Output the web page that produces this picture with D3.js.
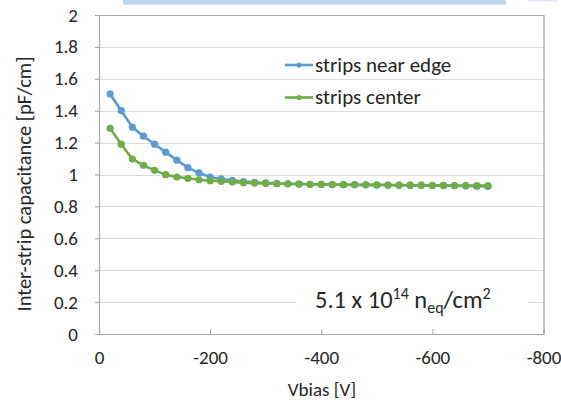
<!DOCTYPE html>
<html>
<head>
<meta charset="utf-8">
<script src="https://cdn.jsdelivr.net/npm/d3@7"></script>
<style>
  body { margin: 0; background: #fff; }
  text { font-family: Carlito, "Liberation Sans", "DejaVu Sans", sans-serif; fill: #262626; }
</style>
</head>
<body>
<svg width="561" height="401"></svg>
<script>
// bias voltage [V]
var vbias = [-20, -40, -60, -80, -100, -120, -140, -160, -180, -200,
             -220, -240, -260, -280, -300, -320, -340, -360, -380, -400,
             -420, -440, -460, -480, -500, -520, -540, -560, -580, -600,
             -620, -640, -660, -680, -700];
var nearEdge = [1.505, 1.40, 1.297, 1.24, 1.19, 1.14, 1.09, 1.043, 1.01, 0.984,
                0.972, 0.963, 0.956, 0.951, 0.947, 0.944, 0.942, 0.940, 0.939, 0.938,
                0.937, 0.936, 0.935, 0.935, 0.934, 0.934, 0.933, 0.933, 0.932, 0.931,
                0.930, 0.929, 0.928, 0.927, 0.925];
var center = [1.29, 1.19, 1.097, 1.058, 1.026, 0.999, 0.984, 0.976, 0.967, 0.961,
              0.957, 0.953, 0.949, 0.946, 0.944, 0.942, 0.941, 0.940, 0.939, 0.938,
              0.937, 0.936, 0.936, 0.935, 0.935, 0.934, 0.934, 0.933, 0.933, 0.932,
              0.932, 0.931, 0.931, 0.930, 0.930];
var seriesNames = ['strips near edge', 'strips center'];
var seriesColors = ['#5b9bd5', '#70ad47'];
var xTicks = [0, -200, -400, -600, -800];
var yTicks = [0, 0.2, 0.4, 0.6, 0.8, 1, 1.2, 1.4, 1.6, 1.8, 2];

var svg = d3.select('svg');
var mLeft = 99, mRight = 543.5, mTop = 15, mBottom = 334;

var x = d3.scaleLinear().domain([0, -800]).range([mLeft, mRight]);
var y = d3.scaleLinear().domain([0, 2]).range([mBottom, mTop]);

// light blue strip at the top of the slide
svg.append('rect').attr('x', 123).attr('y', 0).attr('width', 383).attr('height', 4.7).attr('fill', '#bdd7ee');
svg.append('rect').attr('x', 528).attr('y', 0).attr('width', 30).attr('height', 1.5).attr('fill', '#e3eaf3');

// gridlines
svg.append('g').selectAll('line').data(yTicks.slice(1)).enter().append('line')
   .attr('x1', mLeft).attr('x2', mRight)
   .attr('y1', function (d) { return Math.round(y(d)) + 0.5; })
   .attr('y2', function (d) { return Math.round(y(d)) + 0.5; })
   .attr('stroke', '#d9d9d9').attr('stroke-width', 1.2);

// border top/right
svg.append('path')
   .attr('d', 'M' + mLeft + ',' + (mTop + 0.5) + 'H' + (mRight + 0.5) + 'V' + mBottom)
   .attr('fill', 'none').attr('stroke', '#a6a6a6').attr('stroke-width', 1.2);

// y axis
var yAxis = svg.append('g').attr('transform', 'translate(' + mLeft + ',0)')
   .call(d3.axisLeft(y).tickValues(yTicks).tickSize(4).tickPadding(17)
         .tickFormat(function (d) { return String(+d.toFixed(1)); }));
yAxis.select('.domain').attr('stroke', '#a6a6a6').attr('stroke-width', 1.2);
yAxis.selectAll('.tick line').attr('stroke', '#a6a6a6');
yAxis.selectAll('text').attr('font-family', null).style('font-size', '19px').attr('fill', '#262626');

// x axis with ticks pointing inward
var xAxis = svg.append('g').attr('transform', 'translate(0,' + mBottom + ')')
   .call(d3.axisBottom(x).tickValues(xTicks).tickSize(-5).tickPadding(17)
         .tickFormat(function (d) { return String(d); }));
xAxis.select('.domain').attr('stroke', '#a6a6a6').attr('stroke-width', 1.2);
xAxis.selectAll('.tick line').attr('stroke', '#a6a6a6');
xAxis.selectAll('text').attr('font-family', null).style('font-size', '19px').attr('fill', '#262626');

// series
var series = [nearEdge, center];
var line = d3.line().x(function (d) { return x(d[0]); }).y(function (d) { return y(d[1]); });
series.forEach(function (vals, s) {
  var pts = vbias.map(function (v, i) { return [v, vals[i]]; });
  svg.append('path').datum(pts).attr('d', line)
     .attr('fill', 'none').attr('stroke', seriesColors[s]).attr('stroke-width', 2.6)
     .attr('stroke-linejoin', 'round');
  svg.append('g').selectAll('circle').data(pts).enter().append('circle')
     .attr('cx', function (d) { return x(d[0]); })
     .attr('cy', function (d) { return y(d[1]); })
     .attr('r', 3.6).attr('fill', seriesColors[s]);
});

// legend
seriesNames.forEach(function (name, i) {
  var ly = 65 + i * 32.5;
  svg.append('line').attr('x1', 285).attr('x2', 313).attr('y1', ly).attr('y2', ly)
     .attr('stroke', seriesColors[i]).attr('stroke-width', 2.6);
  svg.append('circle').attr('cx', 299).attr('cy', ly).attr('r', 2.6).attr('fill', seriesColors[i]);
  svg.append('text').attr('x', 315).attr('y', ly + 6.5).style('font-size', '21px').text(name);
});

// fluence label
svg.append('rect').attr('x', 296).attr('y', 285).attr('width', 232).attr('height', 30).attr('fill', '#fff');
var t = svg.append('text').attr('x', 315).attr('y', 308).style('font-size', '24.5px');
t.append('tspan').text('5.1 x 10');
t.append('tspan').attr('dy', -9).style('font-size', '16px').text('14');
t.append('tspan').attr('dy', 9).text(' n');
t.append('tspan').attr('dy', 5).style('font-size', '16px').text('eq');
t.append('tspan').attr('dy', -5).text('/cm');
t.append('tspan').attr('dy', -9).style('font-size', '16px').text('2');

// axis titles
svg.append('text').attr('x', 322).attr('y', 396).attr('text-anchor', 'middle')
   .style('font-size', '19px').text('Vbias [V]');
svg.append('text').attr('transform', 'translate(31,184) rotate(-90)').attr('text-anchor', 'middle')
   .style('font-size', '20.5px').text('Inter-strip capacitance [pF/cm]');
</script>
</body>
</html>
